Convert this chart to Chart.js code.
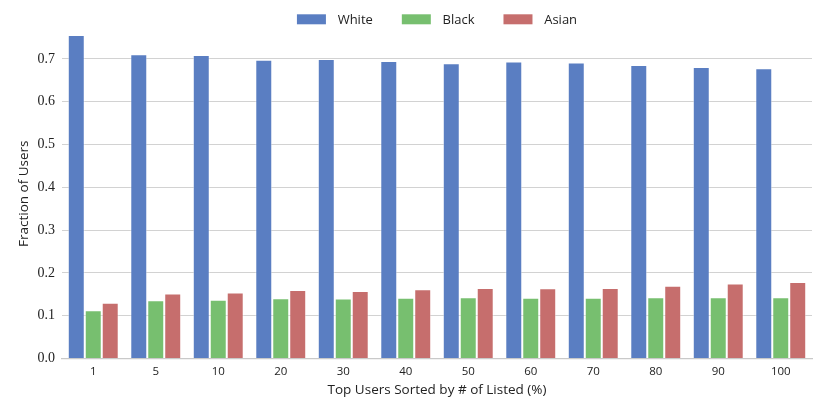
<!DOCTYPE html>
<html>
<head>
<meta charset="utf-8">
<script src="https://cdn.jsdelivr.net/npm/chart.js@4/dist/chart.umd.min.js"></script>
<style>
  html, body { margin: 0; padding: 0; background: #fff; }
  #wrap { width: 830px; height: 415px; }
</style>
</head>
<body>
<div id="wrap"><canvas id="chart" width="830" height="415"></canvas></div>
<script>
// 分类（横轴）
const categories = ['1', '5', '10', '20', '30', '40', '50', '60', '70', '80', '90', '100'];

// 各系列数值
const whiteValues = [0.756, 0.711, 0.709, 0.698, 0.700, 0.695, 0.690, 0.694, 0.692, 0.686, 0.681, 0.678];
const blackValues = [0.113, 0.136, 0.137, 0.141, 0.140, 0.142, 0.143, 0.142, 0.142, 0.143, 0.143, 0.143];
const asianValues = [0.130, 0.152, 0.154, 0.160, 0.158, 0.162, 0.165, 0.164, 0.165, 0.170, 0.175, 0.179];

const seriesNames = ['White', 'Black', 'Asian'];
const seriesColors = ['#5a7ec2', '#77bf6f', '#c66e6d'];

const SANS = '"Open Sans", Lato, sans-serif';
const SERIF = '"Times New Roman", "Liberation Serif", Times, serif';

/**
 * 顶部居中图例（画在绘图区上方，不占用布局空间）
 */
const topLegend = {
    id: 'topLegend',
    afterDraw(chart) {
        const c = chart.ctx;
        const area = chart.chartArea;
        const boxW = 29, boxH = 10, gap = 11.7, itemGap = 29;
        c.save();
        c.font = `13px ${SANS}`;
        const items = chart.data.datasets.map(ds => ({
            text: ds.label,
            color: ds.backgroundColor,
            w: c.measureText(ds.label).width
        }));
        let total = 0;
        items.forEach((it, i) => {
            total += boxW + gap + it.w + (i < items.length - 1 ? itemGap : 0);
        });
        let x = (area.left + area.right) / 2 - total / 2;
        const boxTop = 14.3;
        const midY = boxTop + boxH / 2;
        items.forEach(it => {
            c.fillStyle = it.color;
            c.fillRect(x, boxTop, boxW, boxH);
            c.fillStyle = '#222';
            c.textAlign = 'left';
            c.textBaseline = 'middle';
            c.fillText(it.text, x + boxW + gap, midY + 0.5);
            x += boxW + gap + it.w + itemGap;
        });
        c.restore();
    }
};

const ctx = document.getElementById('chart').getContext('2d');
new Chart(ctx, {
    type: 'bar',
    data: {
        labels: categories,
        datasets: [
            {
                label: seriesNames[0],
                data: whiteValues,
                backgroundColor: seriesColors[0],
                borderColor: 'rgba(255,255,255,0.45)',
                borderWidth: 1
            },
            {
                label: seriesNames[1],
                data: blackValues,
                backgroundColor: seriesColors[1],
                borderColor: 'rgba(255,255,255,0.45)',
                borderWidth: 1
            },
            {
                label: seriesNames[2],
                data: asianValues,
                backgroundColor: seriesColors[2],
                borderColor: 'rgba(255,255,255,0.45)',
                borderWidth: 1
            }
        ]
    },
    plugins: [topLegend],
    options: {
        responsive: false,
        animation: false,
        devicePixelRatio: 1,
        layout: {
            padding: { left: 10, right: 18, top: 29, bottom: 14 }
        },
        datasets: {
            bar: {
                categoryPercentage: 0.815,
                barPercentage: 1.0,
                clip: false
            }
        },
        plugins: {
            legend: { display: false },
            tooltip: { enabled: false }
        },
        scales: {
            x: {
                grid: { display: false, drawTicks: false },
                border: { display: true, color: '#c9c9c9', width: 1.2 },
                ticks: {
                    color: '#222',
                    padding: 7,
                    font: { family: SANS, size: 11.5, lineHeight: 1 }
                },
                title: {
                    display: true,
                    text: 'Top Users Sorted by # of Listed (%)',
                    color: '#222',
                    padding: { top: -0.5, bottom: 4 },
                    font: { family: SANS, size: 13.5, lineHeight: 1 }
                }
            },
            y: {
                min: 0,
                max: 0.77,
                grid: { color: '#d2d2d2', lineWidth: 1, drawTicks: false },
                border: { display: false },
                ticks: {
                    stepSize: 0.1,
                    includeBounds: false,
                    color: '#222',
                    padding: 7,
                    font: { family: SERIF, size: 14, lineHeight: 1 },
                    callback: (v) => v.toFixed(1)
                },
                title: {
                    display: true,
                    text: 'Fraction of Users',
                    color: '#222',
                    padding: { top: 7, bottom: 0 },
                    font: { family: SANS, size: 13.5, lineHeight: 1 }
                }
            }
        }
    }
});
</script>
</body>
</html>
